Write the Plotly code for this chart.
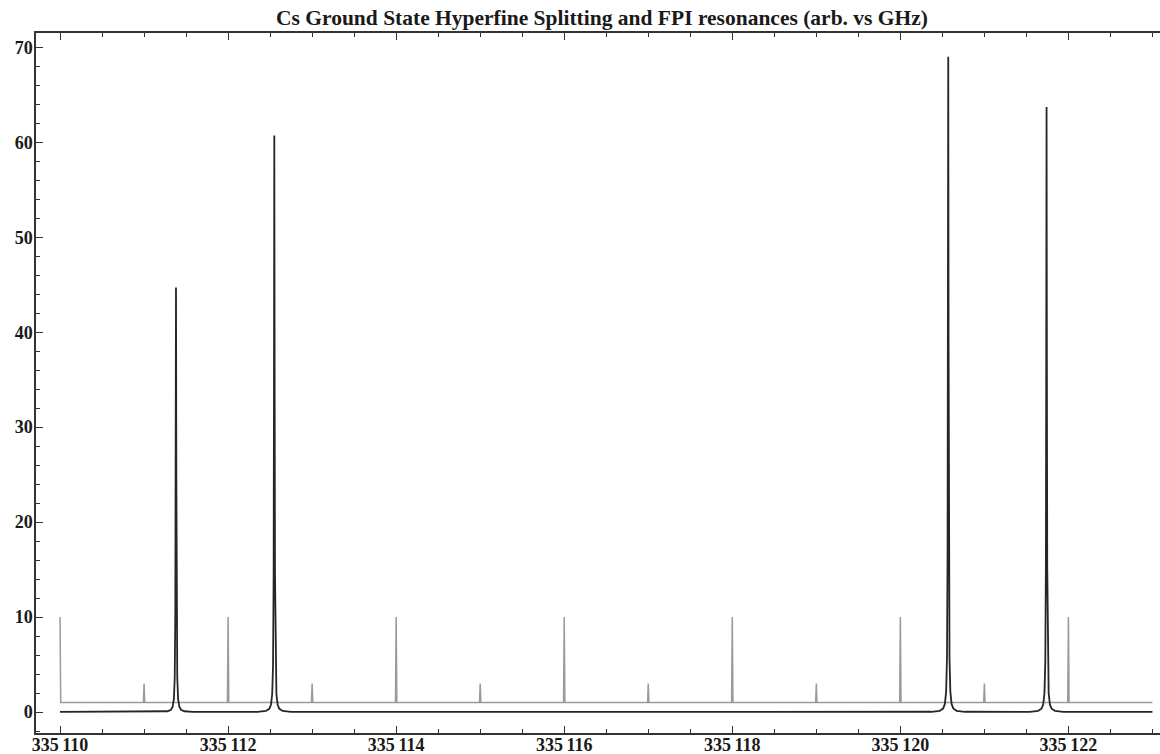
import plotly.graph_objects as go

# ---- data ----
title_text = "Cs Ground State Hyperfine Splitting and FPI resonances (arb. vs GHz)"

# Cs hyperfine absorption peaks (black trace)
peak_centers = [335111.38, 335112.55, 335120.57, 335121.74]
profile_offsets = [-0.2, -0.1, -0.06, -0.04, -0.025, -0.015, -0.008, -0.004, 0.0,
                   0.004, 0.008, 0.015, 0.025, 0.04, 0.06, 0.1, 0.2]
peak1_vals = [0.02, 0.09, 0.25, 0.56, 1.4, 3.7, 10.8, 25.1, 44.7, 25.1, 10.8, 3.7, 1.4, 0.56, 0.25, 0.09, 0.02]
peak2_vals = [0.03, 0.12, 0.34, 0.76, 1.9, 5.0, 14.6, 34.1, 60.7, 34.1, 14.6, 5.0, 1.9, 0.76, 0.34, 0.12, 0.03]
peak3_vals = [0.035, 0.14, 0.39, 0.86, 2.16, 5.7, 16.7, 38.8, 69.0, 38.8, 16.7, 5.7, 2.16, 0.86, 0.39, 0.14, 0.035]
peak4_vals = [0.032, 0.13, 0.36, 0.80, 2.0, 5.3, 15.4, 35.8, 63.7, 35.8, 15.4, 5.3, 2.0, 0.80, 0.36, 0.13, 0.032]
black_start = (335110.0, 0.02)
black_end = (335123.0, 0.03)

# FPI resonances (gray trace)
fpi_centers = [335110, 335111, 335112, 335113, 335114, 335115, 335116,
               335117, 335118, 335119, 335120, 335121, 335122]
fpi_heights = [10, 3, 10, 3, 10, 3, 10, 3, 10, 3, 10, 3, 10]
fpi_baseline = 1.0
fpi_end = 335123.0

# axis ticks
x_tickvals = [335110, 335112, 335114, 335116, 335118, 335120, 335122]
x_ticktext = ["335\u2009110", "335\u2009112", "335\u2009114", "335\u2009116",
              "335\u2009118", "335\u2009120", "335\u2009122"]
y_tickvals = [0, 10, 20, 30, 40, 50, 60, 70]

# ---- build traces ----
bx, by = [black_start[0]], [black_start[1]]
for c, vals in zip(peak_centers, [peak1_vals, peak2_vals, peak3_vals, peak4_vals]):
    for o, v in zip(profile_offsets, vals):
        bx.append(c + o)
        by.append(v)
bx.append(black_end[0])
by.append(black_end[1])

gx, gy = [], []
hw = 0.008
for i, (c, h) in enumerate(zip(fpi_centers, fpi_heights)):
    if i > 0:
        gx.append(c - hw)
        gy.append(fpi_baseline)
    gx.append(c)
    gy.append(h)
    gx.append(c + hw)
    gy.append(fpi_baseline)
gx.append(fpi_end)
gy.append(fpi_baseline)

fig = go.Figure()
fig.add_trace(go.Scatter(x=gx, y=gy, mode="lines",
                         line=dict(color="#9a9a9a", width=1.5), hoverinfo="skip"))
fig.add_trace(go.Scatter(x=bx, y=by, mode="lines",
                         line=dict(color="#262626", width=1.8), hoverinfo="skip"))

font_fam = "Liberation Serif, Times New Roman, serif"
fig.update_layout(
    width=1160, height=754,
    margin=dict(l=36, r=0, t=33, b=21, autoexpand=False),
    paper_bgcolor="white", plot_bgcolor="white",
    showlegend=False,
    title=dict(text="<b>" + title_text + "</b>", x=602 / 1160, xanchor="center",
               y=1 - 17 / 754, yanchor="middle",
               font=dict(family=font_fam, size=21.5, color="#1a1a1a")),
    font=dict(family=font_fam, color="#1a1a1a"),
)
fig.update_xaxes(
    range=[335109.714, 335123.09], automargin=False,
    showgrid=False, zeroline=False,
    showline=True, linecolor="#333", linewidth=1.5, mirror="ticks",
    ticks="inside", ticklen=7, tickwidth=1.2, tickcolor="#333",
    tickvals=x_tickvals, ticktext=["<b>" + t + "</b>" for t in x_ticktext],
    tickfont=dict(family=font_fam, size=18, color="#1a1a1a"),
    ticklabelstandoff=-5,
    minor=dict(dtick=0.5, tick0=335110, ticks="inside", ticklen=4,
               tickwidth=1, tickcolor="#333", showgrid=False),
)
fig.update_yaxes(
    range=[-2.2, 71.5], automargin=False,
    showgrid=False, zeroline=False,
    showline=True, linecolor="#333", linewidth=1.5, mirror=False,
    ticks="inside", ticklen=7, tickwidth=1.2, tickcolor="#333",
    tickvals=y_tickvals, ticktext=["<b>%d</b>" % v for v in y_tickvals],
    tickfont=dict(family=font_fam, size=18, color="#1a1a1a"),
    ticklabelstandoff=-2,
    minor=dict(dtick=2, tick0=0, ticks="inside", ticklen=4,
               tickwidth=1, tickcolor="#333", showgrid=False),
)

fig.write_html("out.html", config={"displayModeBar": False},
               post_script="document.body.style.margin='0';document.body.style.padding='0';")
